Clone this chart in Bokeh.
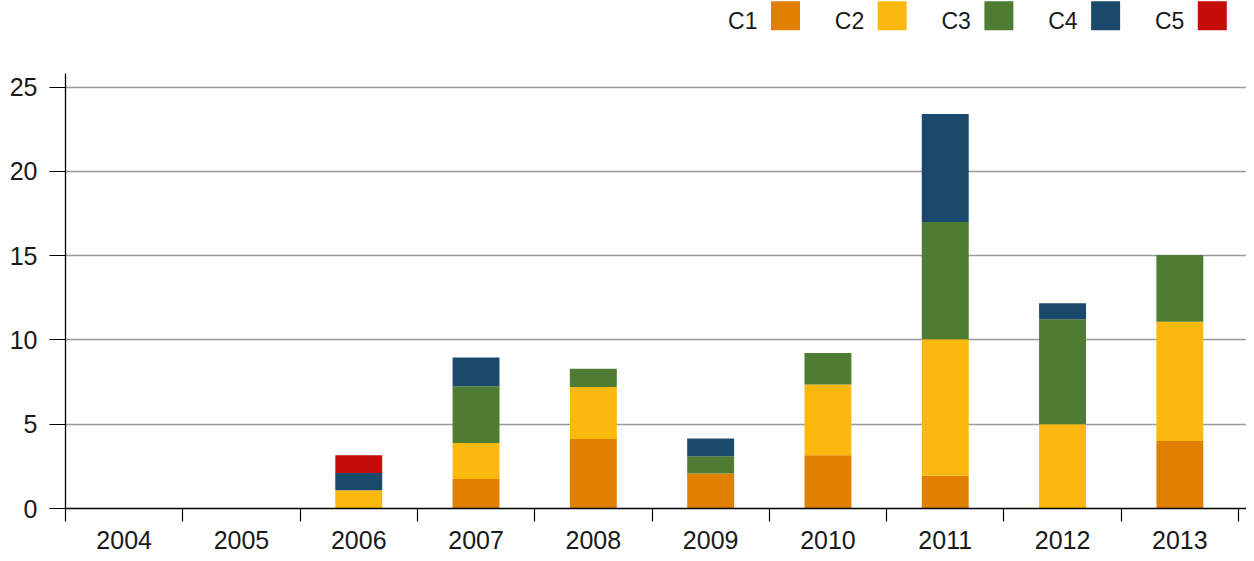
from bokeh.plotting import figure
from bokeh.models import FixedTicker, Range1d, ColumnDataSource
from bokeh.core.properties import value
from bokeh.embed import file_html
from bokeh.resources import INLINE

years = [2004, 2005, 2006, 2007, 2008, 2009, 2010, 2011, 2012, 2013]
c1 = [0, 0, 0, 1.75, 4.12, 2.07, 3.16, 1.94, 0, 4.0]
c2 = [0, 0, 1.08, 2.14, 3.08, 0, 4.19, 8.1, 5.0, 7.08]
c3 = [0, 0, 0, 3.36, 1.09, 1.03, 1.88, 6.96, 6.22, 3.96]
c4 = [0, 0, 1.03, 1.71, 0, 1.05, 0, 6.4, 0.95, 0]
c5 = [0, 0, 1.05, 0, 0, 0, 0, 0, 0, 0]
series = ["C1", "C2", "C3", "C4", "C5"]
colors = ["#E07F00", "#FBB80E", "#4E7C33", "#1A496C", "#C40D0A"]
y_ticks = [0, 5, 10, 15, 20, 25]

FONT = "Liberation Sans"
TXT = "#1a1a1a"

W, H = 1246, 553
left_border, bottom_border = 65, 45
frame_w = W - left_border
frame_h = H - bottom_border
px_per_year = 117.3
px_per_unit = 16.86

x0 = years[0] - 0.5
x1 = x0 + frame_w / px_per_year
y1 = frame_h / px_per_unit

p = figure(width=W, height=H, output_backend="svg", toolbar_location=None,
           x_range=Range1d(x0, x1), y_range=Range1d(0, y1),
           min_border_left=left_border, min_border_right=0,
           min_border_top=0, min_border_bottom=bottom_border)
p.outline_line_color = None
p.background_fill_color = "white"
p.border_fill_color = "white"

src = ColumnDataSource(dict(year=years, C1=c1, C2=c2, C3=c3, C4=c4, C5=c5))
p.vbar_stack(series, x="year", width=0.4, source=src, color=colors,
             line_color=None)

# x axis: labels at year centres, ticks at boundaries (minor ticks)
bounds = [y - 0.5 for y in years] + [years[-1] + 0.5]
xa = p.xaxis[0]
xa.ticker = FixedTicker(ticks=years, minor_ticks=bounds)
xa.major_tick_line_color = None
xa.major_tick_out = 13
xa.major_tick_in = 0
xa.minor_tick_out = 13
xa.minor_tick_in = 0
xa.minor_tick_line_color = "black"
xa.minor_tick_line_width = 1.2
xa.axis_line_color = "black"
xa.axis_line_width = 1.3
xa.major_label_standoff = 9
xa.major_label_text_font = FONT
xa.major_label_text_font_size = "25px"
xa.major_label_text_color = TXT

ya = p.yaxis[0]
ya.ticker = FixedTicker(ticks=y_ticks, minor_ticks=[])
ya.bounds = (0, 25.82)
ya.major_tick_out = 16
ya.major_tick_in = 0
ya.major_tick_line_color = "black"
ya.major_tick_line_width = 1.2
ya.axis_line_color = "black"
ya.axis_line_width = 1.3
ya.major_label_standoff = 12
ya.major_label_text_font = FONT
ya.major_label_text_font_size = "25px"
ya.major_label_text_color = TXT

p.xgrid.grid_line_color = None
p.ygrid.grid_line_color = "#9a9a9a"
p.ygrid.grid_line_width = 1.3

# legend row (text followed by a square), drawn in the top strip of the frame
leg_step = 106.7 / px_per_year
leg_sq_x = [x0 + (785 - left_border) / px_per_year + i * leg_step for i in range(len(series))]
leg_tx_x = [x0 + (757 - left_border) / px_per_year + i * leg_step for i in range(len(series))]
sq_y = (frame_h - 15.2) / px_per_unit
tx_y = (frame_h - 20.0) / px_per_unit
p.rect(x=leg_sq_x, y=[sq_y] * 5, width=29, height=29, width_units="screen",
       height_units="screen", fill_color=colors, line_color=None)
p.text(x=leg_tx_x, y=[tx_y] * 5, text=series, text_align="right",
       text_baseline="middle", text_font=value(FONT),
       text_font_size="23px", text_color=TXT)

open("out.html", "w").write(file_html(p, INLINE))
